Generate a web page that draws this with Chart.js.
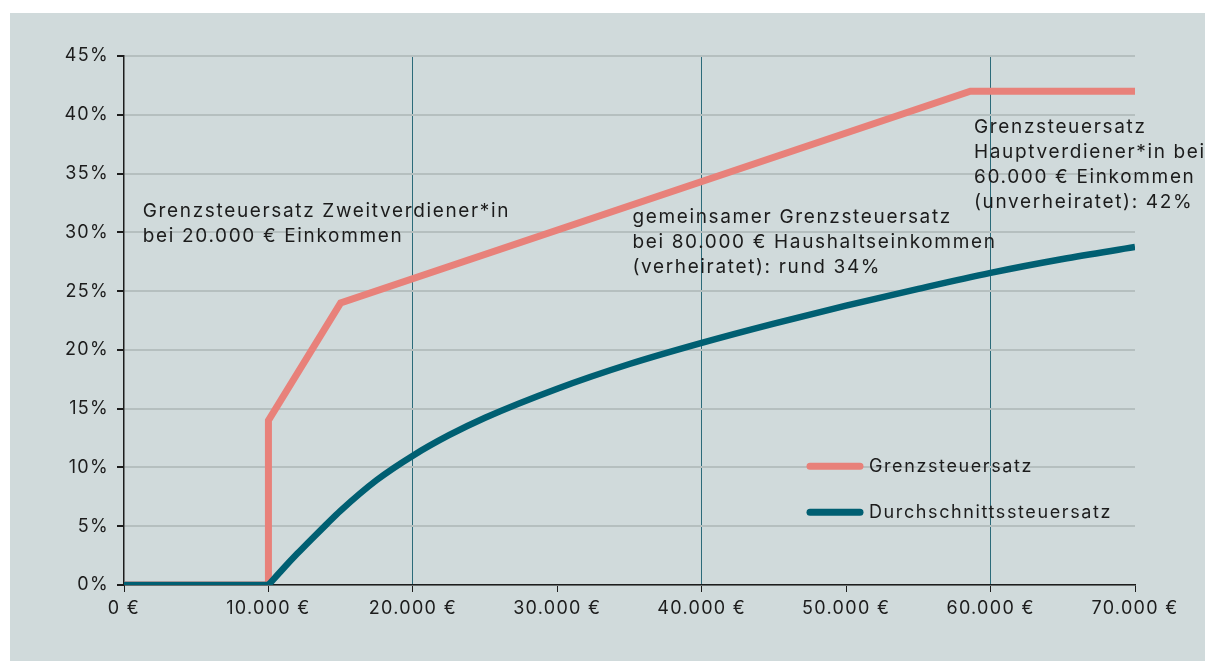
<!DOCTYPE html>
<html lang="de">
<head>
<meta charset="utf-8">
<title>Grenz- und Durchschnittssteuersatz</title>
<script src="https://cdn.jsdelivr.net/npm/chart.js@4.4.1/dist/chart.umd.min.js"></script>
<style>
    html, body { margin: 0; padding: 0; background: #ffffff; }
    .panel {
        position: absolute;
        left: 10px;
        top: 13px;
        width: 1195px;
        height: 648px;
        background: #d0dadb;
    }
    canvas { display: block; }
</style>
</head>
<body>
<div class="panel">
    <canvas id="taxChart" width="1195" height="648"></canvas>
</div>
<script>
// Einkommen in Euro, Steuersätze in Prozent
const marginalIncome = [0, 10000, 10000, 15000, 58600, 70000];
const marginalRate = [0, 0, 14, 24, 42, 42];

const freeIncome = [0, 10000];
const freeRate = [0, 0];

const averageIncome = [10000, 11000, 12000, 13000, 14000, 15000, 17500, 20000, 22500, 25000, 30000, 35000, 40000, 45000, 50000, 55000, 60000, 65000, 70000];
const averageRate = [0, 1.36, 2.67, 3.92, 5.14, 6.33, 8.93, 11.0, 12.74, 14.23, 16.7, 18.8, 20.6, 22.24, 23.76, 25.19, 26.55, 27.73, 28.75];

const xTicks = [0, 10000, 20000, 30000, 40000, 50000, 60000, 70000];
const yTicks = [0, 5, 10, 15, 20, 25, 30, 35, 40, 45];
const markerLines = [20000, 40000, 60000];

const seriesNames = ['Grenzsteuersatz', 'Durchschnittssteuersatz'];

const notes = [
    { x: 1300, y: 31.8, lines: ['Grenzsteuersatz Zweitverdiener*in', 'bei 20.000 € Einkommen'] },
    { x: 35200, y: 31.3, lines: ['gemeinsamer Grenzsteuersatz', 'bei 80.000 € Haushaltseinkommen', '(verheiratet): rund 34%'] },
    { x: 58850, y: 38.96, lines: ['Grenzsteuersatz', 'Hauptverdiener*in bei', '60.000 € Einkommen', '(unverheiratet): 42%'] }
];

const RED = '#e8817a';
const TEAL = '#005f72';
const TEXT = '#1c1c1c';
const FONT = 'Inter, "Noto Sans", sans-serif';

const euro = v => String(v).replace(/\B(?=(\d{3})+(?!\d))/g, '.') + ' €';

const toPoints = (xs, ys) => xs.map((x, i) => ({ x, y: ys[i] }));

// breitere Laufweite für alle Texte auf dem Canvas
const spacingPlugin = {
    id: 'spacing',
    beforeDraw(chart) {
        chart.ctx.letterSpacing = '1.3px';
    }
};

const notesPlugin = {
    id: 'notes',
    afterDatasetsDraw(chart) {
        const { ctx, scales: { x, y }, chartArea } = chart;
        ctx.save();
        ctx.fillStyle = TEXT;
        ctx.textBaseline = 'middle';
        ctx.textAlign = 'left';

        ctx.font = `19px ${FONT}`;
        ctx.letterSpacing = '1.65px';
        notes.forEach(note => {
            const px = x.getPixelForValue(note.x);
            const py = y.getPixelForValue(note.y);
            note.lines.forEach((line, i) => ctx.fillText(line, px, py + i * 25));
        });

        // Legende unten rechts im Diagramm
        ctx.font = `18px ${FONT}`;
        ctx.letterSpacing = '1.6px';
        const colors = [RED, TEAL];
        const lx = chartArea.right - 325;
        const ly = y.getPixelForValue(10.1);
        seriesNames.forEach((name, i) => {
            const yy = ly + i * 46;
            ctx.strokeStyle = colors[i];
            ctx.lineWidth = 7;
            ctx.lineCap = 'round';
            ctx.beginPath();
            ctx.moveTo(lx, yy);
            ctx.lineTo(lx + 50, yy);
            ctx.stroke();
            ctx.fillText(name, lx + 59, yy);
        });
        ctx.restore();
    }
};

new Chart(document.getElementById('taxChart'), {
    type: 'line',
    data: {
        datasets: [{
            label: seriesNames[1],
            data: toPoints(averageIncome, averageRate),
            borderColor: TEAL,
            borderWidth: 6.5,
            cubicInterpolationMode: 'monotone',
            pointRadius: 0,
            order: 1
        }, {
            label: seriesNames[1] + ' (Grundfreibetrag)',
            data: toPoints(freeIncome, freeRate),
            borderColor: TEAL,
            borderWidth: 6.5,
            tension: 0,
            pointRadius: 0,
            order: 1
        }, {
            label: seriesNames[0],
            data: toPoints(marginalIncome, marginalRate),
            borderColor: RED,
            borderWidth: 7,
            tension: 0,
            pointRadius: 0,
            borderJoinStyle: 'miter',
            order: 2
        }]
    },
    options: {
        responsive: false,
        animation: false,
        events: [],
        font: { family: FONT, size: 18 },
        layout: { padding: { left: 0, right: 70, top: 43, bottom: 0 } },
        scales: {
            x: {
                type: 'linear',
                min: 0,
                max: 70000,
                afterBuildTicks: scale => { scale.ticks = xTicks.map(value => ({ value })); },
                afterFit: scale => { scale.height = 76; },
                ticks: {
                    callback: value => euro(value),
                    color: TEXT,
                    font: { family: FONT, size: 18 },
                    padding: 6,
                    maxRotation: 0
                },
                grid: {
                    color: ctx => markerLines.includes(ctx.tick && ctx.tick.value) ? '#2c6b7a' : 'rgba(0,0,0,0)',
                    lineWidth: 1,
                    tickColor: '#1c1c1c',
                    tickLength: 7
                },
                border: { display: true, color: '#1c1c1c', width: 1.5 }
            },
            y: {
                type: 'linear',
                min: 0,
                max: 45,
                afterBuildTicks: scale => { scale.ticks = yTicks.map(value => ({ value })); },
                afterFit: scale => { scale.width = 114; },
                ticks: {
                    callback: value => value + '%',
                    color: TEXT,
                    font: { family: FONT, size: 18 },
                    padding: 8
                },
                grid: {
                    color: '#b5bfbf',
                    lineWidth: 2,
                    tickColor: '#1c1c1c',
                    tickLength: 7
                },
                border: { display: true, color: '#1c1c1c', width: 1.5 }
            }
        },
        plugins: {
            legend: { display: false },
            tooltip: { enabled: false }
        }
    },
    plugins: [spacingPlugin, notesPlugin]
});
</script>
</body>
</html>
